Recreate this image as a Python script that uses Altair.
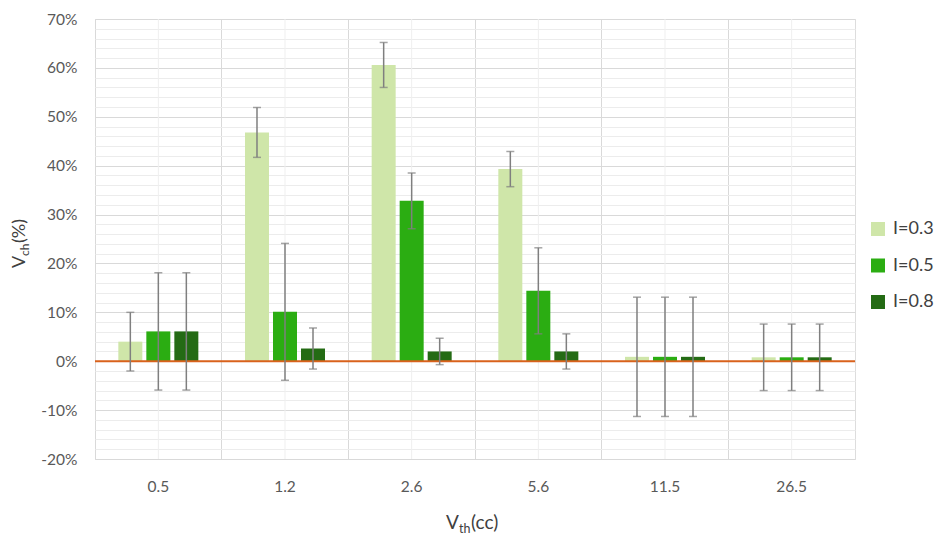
import altair as alt
import pandas as pd

# Vth groups (cc)
categories = ["0.5", "1.2", "2.6", "5.6", "11.5", "26.5"]
series_names = ["I=0.3", "I=0.5", "I=0.8"]

# Vch mean values (%) per series
vch_i03 = [4.0, 46.8, 60.6, 39.3, 0.9, 0.8]
vch_i05 = [6.1, 10.1, 32.8, 14.4, 0.9, 0.8]
vch_i08 = [6.1, 2.6, 2.0, 2.0, 0.9, 0.8]

# symmetric error (+/- %) per series
err_i03 = [6.0, 5.1, 4.6, 3.6, 12.2, 6.8]
err_i05 = [12.0, 14.0, 5.7, 8.8, 12.2, 6.8]
err_i08 = [12.0, 4.2, 2.7, 3.6, 12.2, 6.8]

colors = ["#cfe6a9", "#2bad12", "#246b14"]

rows = []
for name, vals, errs in zip(series_names, [vch_i03, vch_i05, vch_i08], [err_i03, err_i05, err_i08]):
    for c, v, e in zip(categories, vals, errs):
        rows.append({"vth": c, "series": name, "vch": v, "lo": v - e, "hi": v + e})
df = pd.DataFrame(rows)

FONT = "Lato"
W, H = 760, 440

x_scale = alt.Scale(domain=categories, paddingInner=0, paddingOuter=0)
xoff_scale = alt.Scale(domain=series_names, paddingInner=4 / 28, paddingOuter=0.833)
y_scale = alt.Scale(domain=[-20, 70], nice=False, zero=False)

y_axis = alt.Axis(
    values=list(range(-20, 72, 2)),
    labelExpr="datum.value % 10 === 0 ? datum.value + '%' : ''",
    gridColor={"condition": {"test": "datum.value % 10 === 0", "value": "#d9d9d9"}, "value": "#ececec"},
    gridWidth=1,
    ticks=False,
    domain=False,
    labelFont=FONT,
    labelFontSize=15.5,
    labelColor="#595959",
    labelPadding=18,
    title=None,
)

x_axis = alt.Axis(
    bandPosition=0,
    grid=True,
    gridColor="#d9d9d9",
    ticks=False,
    domain=False,
    labelFont=FONT,
    labelFontSize=15.5,
    labelColor="#595959",
    labelAngle=0,
    labelBaseline="middle",
    labelPadding=27,
    title=None,
)

base = alt.Chart(df)

# light vertical lines through the middle of each group
centers = alt.Chart(pd.DataFrame({"vth": categories})).mark_rule(
    color="#efefef", strokeWidth=1
).encode(x=alt.X("vth:N", scale=x_scale, axis=x_axis, sort=categories))

bars = base.mark_bar().encode(
    x=alt.X("vth:N", scale=x_scale, axis=x_axis, sort=categories),
    xOffset=alt.XOffset("series:N", scale=xoff_scale, sort=series_names),
    y=alt.Y("vch:Q", scale=y_scale, axis=y_axis),
    y2=alt.datum(0),
    color=alt.Color(
        "series:N",
        scale=alt.Scale(domain=series_names, range=colors),
        legend=alt.Legend(
            title=None,
            orient="none",
            legendX=774,
            legendY=201,
            padding=0,
            symbolType="square",
            symbolSize=196,
            symbolStrokeWidth=0,
            labelFont=FONT,
            labelFontSize=18,
            labelColor="#404040",
            labelOffset=6,
            rowPadding=18.5,
        ),
    ),
)

zero_line = alt.Chart(pd.DataFrame({"z": [0]})).mark_rule(
    color="#d9621c", strokeWidth=2
).encode(y=alt.Y("z:Q", scale=y_scale, axis=y_axis))

err_rules = base.mark_rule(color="#7f7f7f", strokeWidth=1.5).encode(
    x=alt.X("vth:N", scale=x_scale, axis=x_axis, sort=categories),
    xOffset=alt.XOffset("series:N", scale=xoff_scale, sort=series_names),
    y=alt.Y("lo:Q", scale=y_scale, axis=y_axis),
    y2="hi:Q",
)

cap_lo = base.mark_tick(color="#7f7f7f", thickness=1.5, size=8, orient="horizontal").encode(
    x=alt.X("vth:N", scale=x_scale, axis=x_axis, sort=categories),
    xOffset=alt.XOffset("series:N", scale=xoff_scale, sort=series_names),
    y=alt.Y("lo:Q", scale=y_scale, axis=y_axis),
)
cap_hi = base.mark_tick(color="#7f7f7f", thickness=1.5, size=8, orient="horizontal").encode(
    x=alt.X("vth:N", scale=x_scale, axis=x_axis, sort=categories),
    xOffset=alt.XOffset("series:N", scale=xoff_scale, sort=series_names),
    y=alt.Y("hi:Q", scale=y_scale, axis=y_axis),
)

one = pd.DataFrame({"k": [0]})


def label(text, x, y, size, angle=0, color="#404040"):
    return alt.Chart(one).mark_text(
        text=text, font=FONT, fontSize=size, color=color, align="left",
        baseline="alphabetic", angle=angle,
    ).encode(x=alt.value(x), y=alt.value(y))


# x title: V_th(cc)
x_title = [
    label("V", 351, 510, 19),
    label("th", 364, 514, 12.5),
    label("(cc)", 376, 510, 19),
]
# y title: V_ch(%) rotated
y_title = [
    label("V", -70.5, 249, 18, angle=270),
    label("ch", -66.5, 237, 12, angle=270),
    label("(%)", -70.5, 224, 18, angle=270),
]

chart = alt.layer(
    centers, bars, zero_line, err_rules, cap_lo, cap_hi, *x_title, *y_title
).properties(
    width=W,
    height=H,
    autosize=alt.AutoSizeParams(type="none"),
    padding={"left": 95, "top": 19, "right": 81, "bottom": 78},
).configure_view(stroke="#d9d9d9", strokeWidth=1).configure(background="white")

chart.save("out.html", embed_options={"renderer": "svg", "actions": False})
